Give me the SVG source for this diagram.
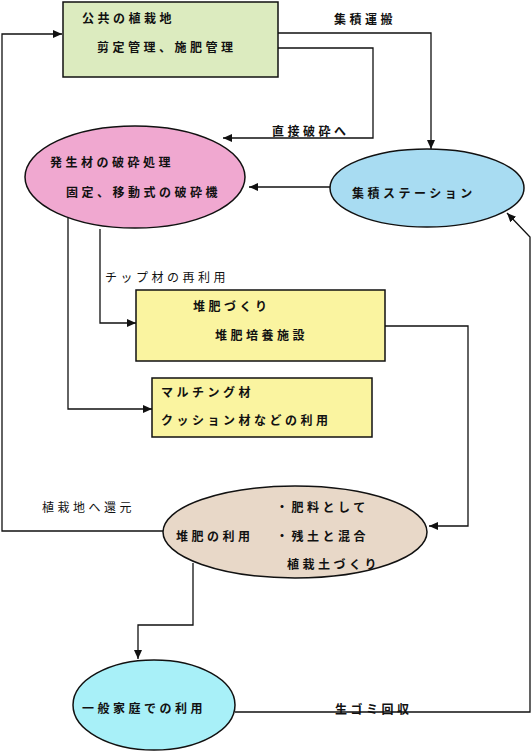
<svg xmlns="http://www.w3.org/2000/svg" width="531" height="752" viewBox="0 0 531 752">
<style>
text{font-family:"Noto Sans CJK JP","Noto Sans",sans-serif;font-size:12px;font-weight:bold;letter-spacing:3.5px;fill:#111}
.lt{font-weight:normal}
.n{stroke:#111;stroke-width:1.5}
.c{fill:none;stroke:#111;stroke-width:1.3}
</style>
<defs>
<marker id="ah" markerUnits="userSpaceOnUse" markerWidth="10" markerHeight="10" refX="9" refY="4" orient="auto">
<path d="M0,0 L9,4 L0,8 Z" fill="#111"/>
</marker>
</defs>
<rect width="531" height="752" fill="#fff"/>
<g id="connectors">
<polyline class="c" points="278,33 431,33 431,149" marker-end="url(#ah)"/>
<polyline class="c" points="278,48 373,48 373,138 223,138" marker-end="url(#ah)"/>
<polyline class="c" points="330,187 249,187" marker-end="url(#ah)"/>
<polyline class="c" points="100,229 100,323 136,323" marker-end="url(#ah)"/>
<polyline class="c" points="68,218 68,409 152,409" marker-end="url(#ah)"/>
<polyline class="c" points="385,326 468,326 468,526 429,526" marker-end="url(#ah)"/>
<polyline class="c" points="163,531 2,531 2,34 62,34" marker-end="url(#ah)"/>
<polyline class="c" points="193,563 193,625 138,625 138,659" marker-end="url(#ah)"/>
<polyline class="c" points="235,712 530,712 530,237 507,213" marker-end="url(#ah)"/>
<text x="334" y="24">集積運搬</text>
<text x="272" y="136">直接破砕へ</text>
<text class="lt" x="105" y="282">チップ材の再利用</text>
<text class="lt" x="42" y="512">植栽地へ還元</text>
<text x="335" y="714">生ゴミ回収</text>
</g>
<g id="public">
<rect class="n" x="63" y="2" width="215" height="75" fill="#dcebbf"/>
<text x="82" y="23">公共の植栽地</text>
<text x="97" y="52">剪定管理、施肥管理</text>
</g>
<g id="crush">
<ellipse class="n" cx="135" cy="177" rx="110" ry="51" fill="#f0a8d0"/>
<text x="50" y="167">発生材の破砕処理</text>
<text x="66" y="197">固定、移動式の破砕機</text>
</g>
<g id="station">
<ellipse class="n" cx="427" cy="188" rx="97" ry="39" fill="#a8dcf2"/>
<text x="352" y="198">集積ステーション</text>
</g>
<g id="compost">
<rect class="n" x="136" y="290" width="249" height="71" fill="#faf4a0"/>
<text x="193" y="311">堆肥づくり</text>
<text x="215" y="340">堆肥培養施設</text>
</g>
<g id="mulch">
<rect class="n" x="152" y="378" width="220" height="59" fill="#faf4a0"/>
<text x="161" y="397">マルチング材</text>
<text x="161" y="425">クッション材などの利用</text>
</g>
<g id="use">
<ellipse class="n" cx="295" cy="532" rx="132" ry="46" fill="#e8d8c8"/>
<text x="176" y="541">堆肥の利用</text>
<text x="276" y="512">・肥料として</text>
<text x="276" y="541">・残土と混合</text>
<text x="287" y="569">植栽土づくり</text>
</g>
<g id="home">
<ellipse class="n" cx="154" cy="705" rx="81" ry="45" fill="#a8f0f8"/>
<text x="82" y="713">一般家庭での利用</text>
</g>
</svg>
